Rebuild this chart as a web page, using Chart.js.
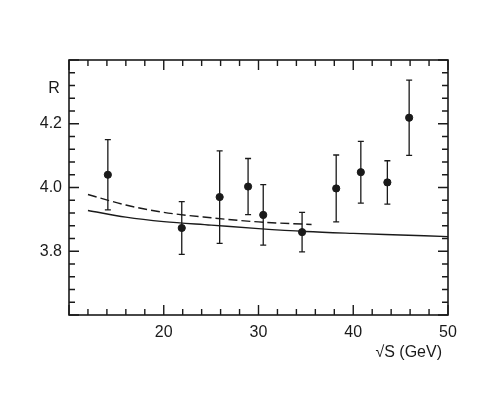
<!DOCTYPE html>
<html>
<head>
<meta charset="utf-8">
<script src="https://cdn.jsdelivr.net/npm/chart.js@4/dist/chart.umd.min.js"></script>
<style>
  body { margin: 0; background: #fff; }
  #wrap { width: 491px; height: 393px; }
</style>
</head>
<body>
<div id="wrap"><canvas id="chart"></canvas></div>
<script>
// measured points
let energies = [14.1, 21.9, 25.9, 28.9, 30.5, 34.6, 38.2, 40.8, 43.6, 45.9]
let rValues = [4.04, 3.873, 3.97, 4.003, 3.914, 3.86, 3.997, 4.048, 4.016, 4.219]
let rErrors = [0.11, 0.083, 0.145, 0.088, 0.095, 0.062, 0.105, 0.097, 0.068, 0.118]

// theory curves
let solidX = [12, 16, 20, 25, 30, 35, 40, 45, 50]
let solidR = [3.928, 3.907, 3.893, 3.882, 3.871, 3.862, 3.856, 3.851, 3.846]
let dashX = [12, 16, 20, 25, 30, 35.6]
let dashR = [3.978, 3.945, 3.922, 3.905, 3.892, 3.884]

let yLabels = [3.8, 4.0, 4.2]
let xLabels = [20, 30, 40, 50]

const ink = '#1a1a1a'

function toXY(xs, ys) {
    return xs.map((x, i) => ({x: x, y: ys[i]}))
}

// error bars, frame, inward ticks and axis labels
const decorations = {
    id: 'decorations',
    afterDatasetsDraw(chart) {
        let ctx = chart.ctx
        let xs = chart.scales.x
        let ys = chart.scales.y
        let a = chart.chartArea
        ctx.save()
        ctx.strokeStyle = ink
        ctx.lineWidth = 1.3
        energies.forEach((e, i) => {
            let px = xs.getPixelForValue(e)
            let top = ys.getPixelForValue(rValues[i] + rErrors[i])
            let bot = ys.getPixelForValue(rValues[i] - rErrors[i])
            ctx.beginPath()
            ctx.moveTo(px, top); ctx.lineTo(px, bot)
            ctx.moveTo(px - 3, top); ctx.lineTo(px + 3, top)
            ctx.moveTo(px - 3, bot); ctx.lineTo(px + 3, bot)
            ctx.stroke()
        })

        ctx.lineWidth = 1.6
        ctx.strokeRect(a.left, a.top, a.right - a.left, a.bottom - a.top)

        // inward ticks on all four sides
        ctx.lineWidth = 1.4
        ctx.beginPath()
        for (let v = 10; v <= 50 + 1e-6; v += 2) {
            let px = xs.getPixelForValue(v)
            let len = v % 10 === 0 ? 10 : 6
            ctx.moveTo(px, a.bottom); ctx.lineTo(px, a.bottom - len)
            ctx.moveTo(px, a.top); ctx.lineTo(px, a.top + len)
        }
        for (let k = 0; k <= 20; k++) {
            let v = 3.6 + k * 0.04
            let py = ys.getPixelForValue(v)
            let len = k % 5 === 0 ? 10 : 6
            ctx.moveTo(a.left, py); ctx.lineTo(a.left + len, py)
            ctx.moveTo(a.right, py); ctx.lineTo(a.right - len, py)
        }
        ctx.stroke()

        ctx.fillStyle = ink
        ctx.font = '16px "Liberation Sans", sans-serif'
        ctx.textBaseline = 'middle'
        ctx.textAlign = 'center'
        ctx.fillText('R', a.left - 15, ys.getPixelForValue(4.31))
        ctx.textAlign = 'right'
        ctx.fillText('\u221AS (GeV)', a.right - 6, a.bottom + 38)
        ctx.restore()
    }
}

new Chart(document.getElementById('chart'), {
    type: 'scatter',
    data: {
        datasets: [
            {
                label: 'data',
                data: toXY(energies, rValues),
                backgroundColor: ink,
                borderColor: ink,
                pointRadius: 3.6,
            },
            {
                type: 'line',
                label: 'solid',
                data: toXY(solidX, solidR),
                borderColor: ink,
                borderWidth: 1.4,
                pointRadius: 0,
                fill: false,
                cubicInterpolationMode: 'monotone',
            },
            {
                type: 'line',
                label: 'dashed',
                data: toXY(dashX, dashR),
                borderColor: ink,
                borderWidth: 1.4,
                borderDash: [9, 4],
                pointRadius: 0,
                fill: false,
                cubicInterpolationMode: 'monotone',
            },
        ]
    },
    options: {
        responsive: true,
        maintainAspectRatio: false,
        animation: false,
        layout: {padding: {top: 60, right: 43, left: 0, bottom: 0}},
        plugins: {
            legend: {display: false},
            tooltip: {enabled: false},
        },
        scales: {
            x: {
                type: 'linear',
                min: 10,
                max: 50,
                grid: {display: false, drawTicks: false},
                border: {display: false},
                ticks: {
                    stepSize: 2,
                    autoSkip: false,
                    maxRotation: 0,
                    padding: 8,
                    color: ink,
                    font: {family: 'Liberation Sans', size: 16},
                    callback: v => xLabels.includes(v) ? String(v) : '',
                },
                afterFit: scale => { scale.height = 78 },
            },
            y: {
                type: 'linear',
                min: 3.6,
                max: 4.4,
                grid: {display: false, drawTicks: false},
                border: {display: false},
                ticks: {
                    stepSize: 0.04,
                    autoSkip: false,
                    padding: 7,
                    color: ink,
                    font: {family: 'Liberation Sans', size: 16},
                    callback: v => yLabels.some(l => Math.abs(l - v) < 1e-6) ? v.toFixed(1) : '',
                },
                afterFit: scale => { scale.width = 69 },
            },
        }
    },
    plugins: [decorations]
})
</script>
</body>
</html>
